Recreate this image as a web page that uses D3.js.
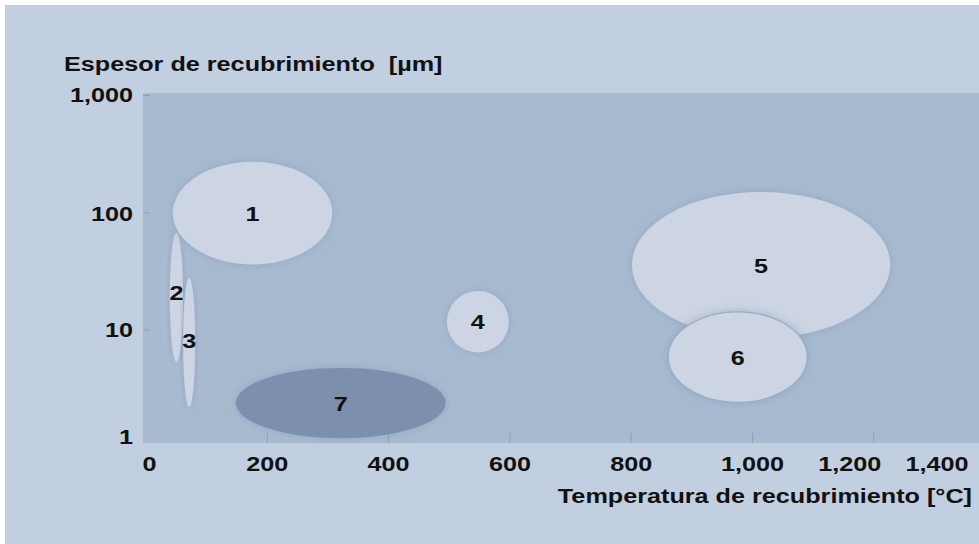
<!DOCTYPE html>
<html>
<head>
<meta charset="utf-8">
<script src="https://cdn.jsdelivr.net/npm/d3@7"></script>
<style>
body { margin: 0; background: #fff; }
svg text { font-family: "Liberation Sans", Arial, Helvetica, sans-serif; font-weight: bold; fill: #111; white-space: pre; }
</style>
</head>
<body>
<svg id="chart"></svg>
<script>
// regions of the chart (temperature in °C, thickness in µm)
var labels   = ["1", "2", "3", "4", "5", "6", "7"];
var tempMin  = [45, 40, 62, 497, 802, 862, 149];
var tempMax  = [308, 62, 82, 599, 1228, 1091, 495];
var thickMin = [36, 5.3, 2.2, 6.4, 8.5, 2.4, 1.19];
var thickMax = [270, 67, 27.6, 21.4, 149, 14.2, 4.72];
var drawOrder = [1, 2, 0, 3, 4, 5, 6];

var xTicks = [0, 200, 400, 600, 800, 1000, 1200, 1400];
var yTicks = [1, 10, 100, 1000];

var yTitle = "Espesor de recubrimiento  [µm]";
var xTitle = "Temperatura de recubrimiento [°C]";

var width = 979;
var height = 544;
var sx = 1.2; // text in the picture is stretched sideways
var fs = "21px";

var svg = d3.select("#chart")
    .attr("width", width)
    .attr("height", height);

// outer light panel
svg.append("rect")
    .attr("x", 5).attr("y", 5)
    .attr("width", width - 5).attr("height", height - 5)
    .attr("fill", "#c2cfe0");

var plotLeft = 143, plotTop = 93, plotBottom = 443;

svg.append("rect")
    .attr("x", plotLeft).attr("y", plotTop)
    .attr("width", width - plotLeft).attr("height", plotBottom - plotTop)
    .attr("fill", "#a7bad0");

var x = d3.scaleLinear()
    .domain([0, 1400])
    .range([145.5, 994.6]);

var y = d3.scaleLog()
    .domain([1, 1000])
    .range([447, 95]);

var defs = svg.append("defs");
var f = defs.append("filter").attr("id", "halo")
    .attr("x", "-20%").attr("y", "-20%").attr("width", "140%").attr("height", "140%");
f.append("feDropShadow")
    .attr("dx", 0).attr("dy", 0)
    .attr("stdDeviation", 4)
    .attr("flood-color", "#8098b6")
    .attr("flood-opacity", 0.55);

function stretch(sel, px, py) {
  sel.attr("transform", "translate(" + px + "," + py + ") scale(" + sx + ",1)");
}

// x axis
var xAxis = svg.append("g")
    .attr("transform", "translate(0," + plotBottom + ")")
    .call(d3.axisBottom(x)
      .tickValues(xTicks)
      .tickFormat(d3.format(","))
      .tickSizeInner(-10)
      .tickSizeOuter(0)
      .tickPadding(13));
xAxis.select(".domain").remove();
xAxis.selectAll(".tick line")
    .attr("stroke", "#8aa0bb")
    .attr("opacity", function(d){ return (d === 0 || d === 1400) ? 0 : 1; });
var xShift = {0: 3.5, 1200: -24, 1400: -58};
xAxis.selectAll(".tick text")
    .style("font-size", fs)
    .attr("fill", "#111")
    .each(function(d){
      var t = d3.select(this);
      var dx = xShift[d] || 0;
      t.attr("x", dx / sx).attr("transform", "scale(" + sx + ",1)");
    });

// y axis
var yAxis = svg.append("g")
    .attr("transform", "translate(" + plotLeft + ",0)")
    .call(d3.axisLeft(y)
      .tickValues(yTicks)
      .tickFormat(d3.format(","))
      .tickSizeInner(-7)
      .tickSizeOuter(0)
      .tickPadding(11));
yAxis.select(".domain").remove();
yAxis.selectAll(".tick line")
    .attr("stroke", "#8aa0bb")
    .attr("opacity", function(d){ return d === 1 ? 0 : 1; });
var yShift = {1: -10, 100: 1};
yAxis.selectAll(".tick text")
    .style("font-size", fs)
    .attr("fill", "#111")
    .each(function(d){
      var t = d3.select(this);
      t.attr("x", -10 / sx)
       .attr("y", yShift[d] || 0)
       .attr("transform", "scale(" + sx + ",1)");
    });

// regions
var regions = svg.append("g");
drawOrder.forEach(function(i){
  var x0 = x(tempMin[i]), x1 = x(tempMax[i]);
  var y0 = y(thickMin[i]), y1 = y(thickMax[i]);
  regions.append("ellipse")
      .attr("cx", (x0 + x1) / 2)
      .attr("cy", (y0 + y1) / 2)
      .attr("rx", (x1 - x0) / 2)
      .attr("ry", Math.abs(y0 - y1) / 2)
      .attr("fill", labels[i] === "7" ? "#7b90ae" : "#cdd4e3")
      .attr("stroke", labels[i] === "6" ? "#98adc7" : "none")
      .attr("stroke-width", 1.2)
      .attr("filter", "url(#halo)");
});
var labelNudge = {"2": -5, "3": -2};
drawOrder.forEach(function(i){
  var cx = (x(tempMin[i]) + x(tempMax[i])) / 2;
  var cy = (y(thickMin[i]) + y(thickMax[i])) / 2 + (labelNudge[labels[i]] || 0);
  regions.append("text")
      .attr("text-anchor", "middle")
      .attr("dy", "0.36em")
      .style("font-size", fs)
      .text(labels[i])
      .call(stretch, cx, cy);
});

// titles
svg.append("text")
    .attr("text-anchor", "start")
    .style("font-size", fs)
    .text(yTitle)
    .call(stretch, 64, 71);

svg.append("text")
    .attr("text-anchor", "end")
    .style("font-size", fs)
    .text(xTitle)
    .call(stretch, 972, 503);
</script>
</body>
</html>
